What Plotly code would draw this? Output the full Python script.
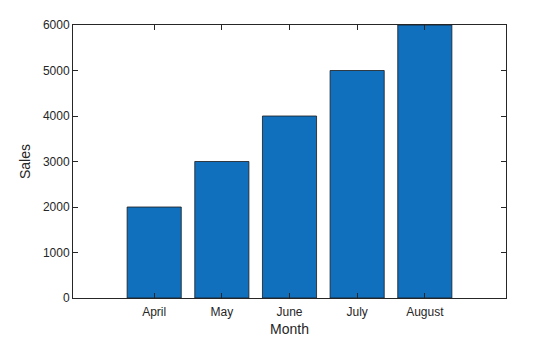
import plotly.graph_objects as go

months = ["April", "May", "June", "July", "August"]
sales = [2000, 3000, 4000, 5000, 6000]
y_ticks = [0, 1000, 2000, 3000, 4000, 5000, 6000]

x_idx = list(range(len(months)))

fig = go.Figure(go.Bar(
    x=x_idx, y=sales, width=0.8,
    marker=dict(color="#1170BD", line=dict(color="#1a1a1a", width=0.8)),
))

axis_common = dict(
    showline=True, linecolor="#262626", linewidth=1, mirror="ticks",
    ticks="inside", ticklen=5, tickcolor="#262626", tickwidth=1,
    showgrid=False, zeroline=False,
    tickfont=dict(family="Liberation Sans, Arial", size=12, color="#262626"),
)

fig.update_layout(
    width=560, height=337,
    margin=dict(l=73, r=54, t=25, b=39),
    paper_bgcolor="white", plot_bgcolor="white",
    showlegend=False,
    xaxis=dict(
        axis_common, range=[-1.2, 5.2], automargin=False,
        tickvals=x_idx, ticktext=months, ticklabelstandoff=3,
        title=dict(text="Month",
                   font=dict(family="Liberation Sans, Arial", size=14, color="#262626")),
    ),
    yaxis=dict(
        axis_common, range=[0, 6000], automargin=True,
        tickvals=y_ticks, ticktext=[str(v) for v in y_ticks],
        title=dict(text="Sales", standoff=8,
                   font=dict(family="Liberation Sans, Arial", size=14, color="#262626")),
    ),
)

fig.write_html("out.html")
